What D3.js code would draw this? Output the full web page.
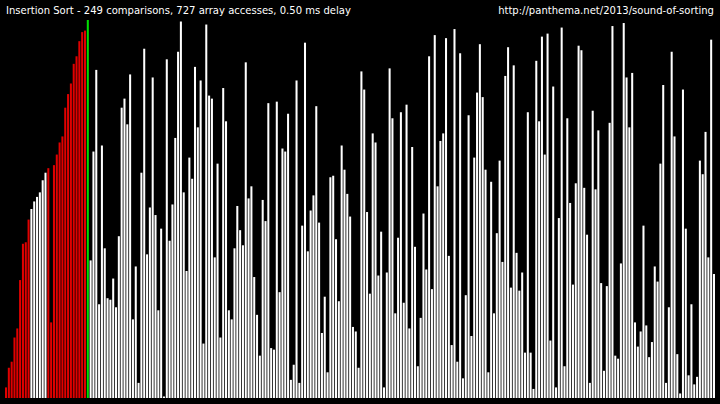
<!DOCTYPE html>
<html>
<head>
<meta charset="utf-8">
<script src="https://cdn.jsdelivr.net/npm/d3@7"></script>
<style>
html,body{margin:0;padding:0;background:#000;}
svg{display:block;}
</style>
</head>
<body>
<svg id="chart" width="720" height="404"></svg>
<script>
// Array state (values on a 0..250 scale)
const values = [
  7,20,24,40,46,78,102,103,118,125,130,133,136,144,149,152,50,154,161,169,
  173,192,201,208,221,226,236,242,243,250,91,163,217,62,167,99,66,65,79,60,
  107,192,198,181,214,52,87,10,149,231,95,126,212,121,58,112,1,224,104,128,
  172,229,249,136,84,159,145,219,179,210,36,247,200,198,93,155,40,205,183,58,
  52,99,127,111,101,222,132,140,80,55,28,131,117,195,33,32,196,70,165,163,
  188,12,22,210,10,114,235,97,124,134,193,116,43,67,17,146,147,105,64,167,
  151,135,120,47,44,20,216,204,123,69,175,169,81,110,7,83,218,185,56,106,
  189,63,194,46,166,100,21,53,122,85,226,72,240,140,170,175,238,94,35,244,
  24,228,13,68,187,41,159,202,234,199,151,17,143,56,109,157,90,213,232,73,
  220,96,71,83,30,189,30,6,223,183,239,161,241,38,206,7,119,245,21,185,
  129,75,142,233,230,139,108,10,190,138,177,76,18,74,182,246,28,26,89,248,
  212,179,215,50,34,44,114,48,27,37,87,77,155,207,10,60,229,173,29,3,
  204,112,15,62,9,14,157,148,176,93,237,82
];
// highlighted positions
const markRed = [0,1,2,3,4,5,6,7,8,15,16,17,18,19,20,21,22,23,24,25,26,27,28];
const markGreen = [29];
const maxValue = 250;

const titleLeft = "Insertion Sort - 249 comparisons, 727 array accesses, 0.50 ms delay";
const titleRight = "http://panthema.net/2013/sound-of-sorting";

const W = 720, H = 404;
const svg = d3.select("#chart");
svg.append("rect").attr("width", W).attr("height", H).attr("fill", "#000");

const x = d3.scaleBand()
  .domain(d3.range(values.length))
  .range([5, 715])
  .paddingInner(0.28)
  .paddingOuter(0);

const y = d3.scaleLinear().domain([0, maxValue]).range([398, 20]);

const redSet = new Set(markRed), greenSet = new Set(markGreen);
function color(i){
  if (greenSet.has(i)) return "#00e000";
  if (redSet.has(i)) return "#e00000";
  return "#ffffff";
}

svg.append("g").selectAll("rect")
  .data(values)
  .join("rect")
  .attr("x", (d,i) => x(i))
  .attr("width", x.bandwidth())
  .attr("y", d => y(d))
  .attr("height", d => y(0) - y(d))
  .attr("fill", (d,i) => color(i));

function fitText(txt, anchorX, anchor, targetW){
  const t = svg.append("text")
    .attr("x", anchorX).attr("y", 14)
    .attr("fill", "#fff")
    .attr("font-family", "DejaVu Sans, sans-serif")
    .attr("font-size", 10)
    .attr("text-anchor", anchor)
    .text(txt);
  const w = t.node().getComputedTextLength();
  t.attr("font-size", (10 * targetW / w).toFixed(2));
}
fitText(titleLeft, 6, "start", 345);
fitText(titleRight, 714, "end", 216);
</script>
</body>
</html>
